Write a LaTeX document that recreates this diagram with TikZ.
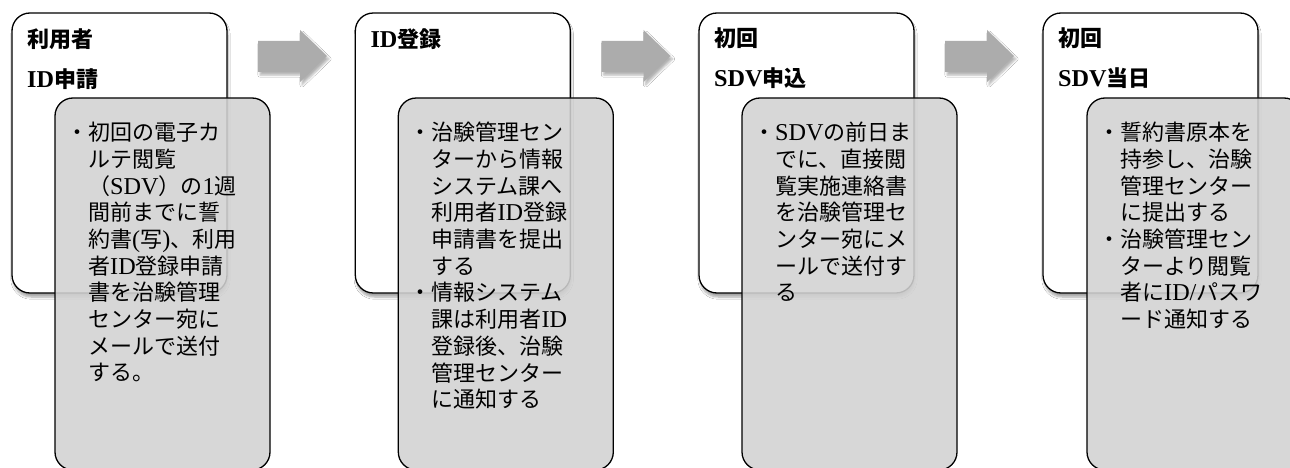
\documentclass[tikz,border=0pt]{standalone}
\usepackage{fontspec}
\setmainfont{Noto Sans CJK JP}
\newfontfamily\lat{Liberation Serif}[Scale=1.1]
\usetikzlibrary{shadows.blur}
\definecolor{cardgray}{RGB}{210,210,210}
\definecolor{arrowgray}{RGB}{172,172,172}
\tikzset{
  whitebox/.style={draw=black, line width=1.3pt, fill=white, rounded corners=18pt,
    minimum width=215pt, minimum height=280pt, inner sep=0pt, outer sep=0pt,
    blur shadow={shadow xshift=1pt, shadow yshift=-4pt, shadow opacity=35, shadow blur steps=6}},
  graybox/.style={draw=black, line width=1.3pt, fill=cardgray, fill opacity=0.88, draw opacity=1,
    rounded corners=18pt, minimum width=215pt, minimum height=372pt, inner sep=0pt, outer sep=0pt},
  headtext/.style={anchor=north west, align=left, inner sep=0pt,
    font=\fontsize{22}{40}\selectfont\bfseries},
  bodytext/.style={anchor=north west, align=left, inner sep=0pt,
    font=\fontsize{22}{26.7}\selectfont},
  blockarrow/.style={fill=arrowgray, draw=none,
    blur shadow={shadow xshift=2pt, shadow yshift=-3pt, shadow opacity=30, shadow blur steps=5}},
}
\newcommand{\myblt}{\llap{・}}
\newcommand{\myl}[1]{{\lat #1}}
\newcommand{\mylb}[1]{{\lat\bfseries #1}}
\begin{document}
\begin{tikzpicture}[x=1pt,y=-1pt]
\useasboundingbox (0,0) rectangle (1290,468);
\clip (0,0) rectangle (1290,468);
\fill[white] (0,0) rectangle (1290,468);

% arrows
\foreach \dx in {0,343.5,687}{
  \path[blockarrow, xshift=\dx pt] (258,41) -- (300,41) -- (300,30) -- (327,56) -- (300,82) -- (300,72) -- (258,72) -- cycle;
}

% card 1
\node[whitebox] (w1) at (119.5,153) {};
\node[headtext] (h1) at ([xshift=15pt,yshift=-15pt]w1.north west) {利用者\\\mylb{ID}申請};
\node[graybox] (g1) at (162.5,284) {};
\node[bodytext] (t1) at ([xshift=33pt,yshift=-24pt]g1.north west)
 {\myblt 初回の電子カ\\ルテ閲覧\\（\myl{SDV}）の\myl{1}週\\間前までに誓\\約書\myl{(}写\myl{)}、利用\\者\myl{ID}登録申請\\書を治験管理\\センター宛に\\メールで送付\\する。};

% card 2
\node[whitebox] (w2) at (462.8,153) {};
\node[headtext] (h2) at ([xshift=15pt,yshift=-15pt]w2.north west) {\mylb{ID}登録};
\node[graybox] (g2) at (505.8,284) {};
\node[bodytext] (t2) at ([xshift=33pt,yshift=-24pt]g2.north west)
 {\myblt 治験管理セン\\ターから情報\\システム課へ\\利用者\myl{ID}登録\\申請書を提出\\する\\\myblt 情報システム\\課は利用者\myl{ID}\\登録後、治験\\管理センター\\に通知する};

% card 3
\node[whitebox] (w3) at (806.5,153) {};
\node[headtext] (h3) at ([xshift=15pt,yshift=-15pt]w3.north west) {初回\\\mylb{SDV}申込};
\node[graybox] (g3) at (849.5,284) {};
\node[bodytext] (t3) at ([xshift=33pt,yshift=-24pt]g3.north west)
 {\myblt \myl{SDV}の前日ま\\でに、直接閲\\覧実施連絡書\\を治験管理セ\\ンター宛にメ\\ールで送付す\\る};

% card 4
\node[whitebox] (w4) at (1150.5,153) {};
\node[headtext] (h4) at ([xshift=15pt,yshift=-15pt]w4.north west) {初回\\\mylb{SDV}当日};
\node[graybox] (g4) at (1194.5,284) {};
\node[bodytext] (t4) at ([xshift=33pt,yshift=-24pt]g4.north west)
 {\myblt 誓約書原本を\\持参し、治験\\管理センター\\に提出する\\\myblt 治験管理セン\\ターより閲覧\\者に\myl{ID/}パスワ\\ード通知する};
\end{tikzpicture}
\end{document}
